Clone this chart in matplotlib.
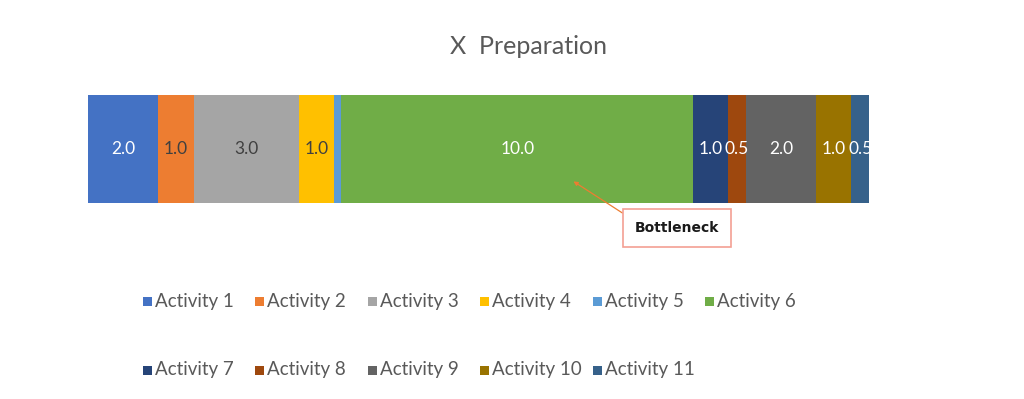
import matplotlib.pyplot as plt
from matplotlib.patches import Rectangle

plt.rcParams['font.family'] = ['Lato', 'DejaVu Sans']

# data
activities = ['Activity 1', 'Activity 2', 'Activity 3', 'Activity 4', 'Activity 5', 'Activity 6',
              'Activity 7', 'Activity 8', 'Activity 9', 'Activity 10', 'Activity 11']
durations = [2.0, 1.0, 3.0, 1.0, 0.2, 10.0, 1.0, 0.5, 2.0, 1.0, 0.5]
show_label = [True, True, True, True, False, True, True, True, True, True, True]

colors = ['#4472C4', '#ED7D31', '#A5A5A5', '#FFC000', '#5B9BD5', '#70AD47',
          '#264478', '#9E480E', '#636363', '#997300', '#36618A']
label_colors = ['white', '#404040', '#404040', '#404040', 'white', 'white',
                'white', 'white', 'white', 'white', 'white']

W, H = 1024, 399
fig = plt.figure(figsize=(W / 100, H / 100), dpi=100)

# overlay in pixel coordinates for title / legend
lax = fig.add_axes([0, 0, 1, 1])
lax.set_xlim(0, W)
lax.set_ylim(H, 0)
lax.axis('off')

ax = fig.add_axes([88 / W, 1 - 203 / H, 781 / W, 108 / H])

left = 0
for name, d, c, lc, show in zip(activities, durations, colors, label_colors, show_label):
    ax.barh(0, d, left=left, height=1.0, color=c, edgecolor='none')
    if show:
        ax.text(left + d / 2, 0, f'{d:.1f}', ha='center', va='center',
                color=lc, fontsize=12.5)
    left += d

ax.set_xlim(0, sum(durations))
ax.set_ylim(-0.5, 0.5)
ax.axis('off')

lax.text(528, 47, 'X  Preparation', ha='center', va='center',
         fontsize=18, color='#595959')

# bottleneck callout
ax.annotate('Bottleneck', xy=(13.8, -0.3), xycoords='data',
            xytext=(677, H - 228), textcoords='figure pixels',
            ha='center', va='center', fontsize=10, fontweight='bold', color='#1a1a1a',
            family='DejaVu Sans',
            bbox=dict(boxstyle='square,pad=0.85', facecolor='white', edgecolor='#F4A093', lw=1.2),
            arrowprops=dict(arrowstyle='-|>', color='#ED7D31', lw=0.9, mutation_scale=6,
                            relpos=(0, 1), shrinkA=0, shrinkB=0))

# legend: 6 equal columns, 2 rows
col_x0, col_w = 143, 112.4
row_y = [301, 370]
sq = 9
for i, (name, c) in enumerate(zip(activities, colors)):
    x = col_x0 + (i % 6) * col_w
    y = row_y[i // 6]
    lax.add_patch(Rectangle((x, y - sq / 2), sq, sq, facecolor=c, edgecolor='none'))
    lax.text(x + sq + 3, y, name, ha='left', va='center', fontsize=13.5, color='#595959')

fig.savefig('out.png', dpi=100, facecolor='white')
